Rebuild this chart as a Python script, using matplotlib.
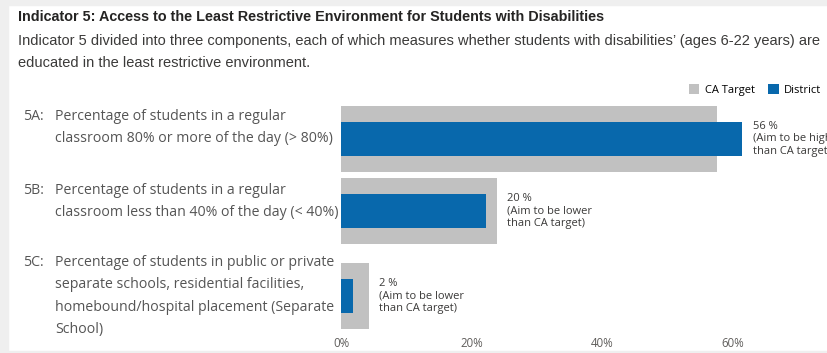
import matplotlib.pyplot as plt
from matplotlib.patches import Rectangle

# data
codes = ['5A:', '5B:', '5C:']
descriptions = [
    'Percentage of students in a regular\nclassroom 80% or more of the day (> 80%)',
    'Percentage of students in a regular\nclassroom less than 40% of the day (< 40%)',
    'Percentage of students in public or private\nseparate schools, residential facilities,\nhomebound/hospital placement (Separate\nSchool)',
]
ca_target = [57.6, 23.9, 4.3]
district = [61.5, 22.2, 1.8]
value_labels = ['56 %', '20 %', '2 %']
aim_labels = ['(Aim to be higher\nthan CA target)',
              '(Aim to be lower\nthan CA target)',
              '(Aim to be lower\nthan CA target)']
ticks = [0, 20, 40, 60]
tick_labels = ['0%', '20%', '40%', '60%']

W, H = 827, 353
row_y = [139, 211, 296]      # row centres, px from top
label_top = [109, 183, 255]  # top of left text blocks

grey = '#c1c1c1'
blue = '#0868ac'
narrow = ['Liberation Sans', 'DejaVu Sans']
body = ['Open Sans', 'DejaVu Sans']

fig = plt.figure(figsize=(W / 100, H / 100), dpi=100)

# light frame
fig.patches.append(Rectangle((0, 0), 8 / W, 1, transform=fig.transFigure, color='#efefef', zorder=0))
fig.patches.append(Rectangle((0, 1 - 5 / H), 1, 5 / H, transform=fig.transFigure, color='#efefef', zorder=0))
fig.patches.append(Rectangle((0, 0), 1, 2 / H, transform=fig.transFigure, color='#efefef', zorder=0))

fig.text(18 / W, 1 - 17 / H, 'Indicator 5: Access to the Least Restrictive Environment for Students with Disabilities',
         family=narrow, weight='bold', fontsize=10.4, color='#252423', va='center')
fig.text(18 / W, 1 - 52 / H,
         'Indicator 5 divided into three components, each of which measures whether students with disabilities\u2019 (ages 6-22 years) are\neducated in the least restrictive environment.',
         family=narrow, fontsize=10.5, color='#3b3a39', va='center', linespacing=1.75)

ax_bottom, ax_top = 336, 90
ax = fig.add_axes([341 / W, (H - ax_bottom) / H, 486 / W, (ax_bottom - ax_top) / H])
ax.barh(row_y, ca_target, height=66, color=grey, label='CA Target')
ax.barh(row_y, district, height=34, color=blue, label='District')
ax.set_ylim(ax_bottom, ax_top)
ax.set_xlim(0, 74.5)
ax.set_xticks(ticks)
ax.set_xticklabels(tick_labels, family=body, fontsize=8.3, color='#605e5c')
ax.tick_params(axis='x', length=0, pad=0.5)
ax.set_yticks([])
for s in ax.spines.values():
    s.set_visible(False)

for y, c, d, v, a in zip(row_y, ca_target, district, value_labels, aim_labels):
    ax.annotate(v + '\n' + a, xy=(max(c, d), y), xytext=(7.5, 0), textcoords='offset points',
                va='center', ha='left', fontsize=8, family=body, color='#3b3a39',
                linespacing=1.2, annotation_clip=False)

for code, desc, top in zip(codes, descriptions, label_top):
    fig.text(23 / W, 1 - top / H, code, family=body, fontsize=10.2, color='#555555', va='top')
    fig.text(55 / W, 1 - top / H, desc, family=body, fontsize=10.2, color='#555555', va='top',
             linespacing=1.68)

fig.legend(loc='center right', bbox_to_anchor=(1.0, 1 - 90 / H), ncol=2, frameon=False,
           handlelength=0.95, handleheight=0.95, handletextpad=0.5, columnspacing=1.2,
           prop={'family': body, 'size': 8}, borderaxespad=0.1)

fig.savefig('out.png', dpi=100)
